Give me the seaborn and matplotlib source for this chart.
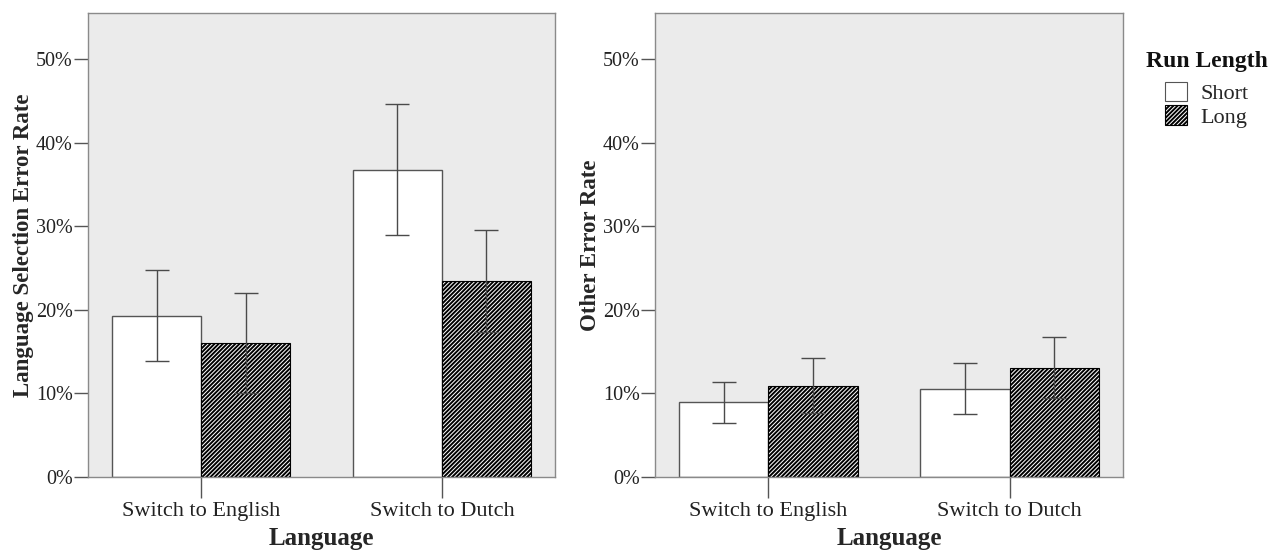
import matplotlib
matplotlib.use('Agg')
import matplotlib.pyplot as plt
import seaborn as sns
import pandas as pd
from matplotlib.ticker import PercentFormatter
from matplotlib.patches import Patch

# ---------------- data ----------------
languages = ['Switch to English', 'Switch to Dutch']
run_lengths = ['Short', 'Long']

# Language selection error rate (%)
lang_short = [19.3, 36.7]
lang_short_lo = [13.9, 28.9]
lang_short_hi = [24.7, 44.6]
lang_long = [16.0, 23.5]
lang_long_lo = [10.0, 17.4]
lang_long_hi = [22.0, 29.6]

# Other error rate (%)
other_short = [9.0, 10.5]
other_short_lo = [6.5, 7.5]
other_short_hi = [11.4, 13.6]
other_long = [10.9, 13.0]
other_long_lo = [7.7, 9.4]
other_long_hi = [14.2, 16.7]

y_ticks = [0, 10, 20, 30, 40, 50]

# ---------------- style ----------------
sns.set_theme(style='white')
plt.rcParams['font.family'] = ['Liberation Serif', 'DejaVu Serif']
plt.rcParams['hatch.linewidth'] = 1.4
plt.rcParams['hatch.color'] = 'black'

BG = '#EBEBEB'
SPINE = '#8a8a8a'
EDGE = '#555555'
HATCH = '////////'


def make_df(s, slo, shi, l, llo, lhi):
    rows = []
    for i, lang in enumerate(languages):
        rows.append(dict(Language=lang, Run=run_lengths[0], Rate=s[i], lo=slo[i], hi=shi[i]))
    for i, lang in enumerate(languages):
        rows.append(dict(Language=lang, Run=run_lengths[1], Rate=l[i], lo=llo[i], hi=lhi[i]))
    return pd.DataFrame(rows)


df_lang = make_df(lang_short, lang_short_lo, lang_short_hi, lang_long, lang_long_lo, lang_long_hi)
df_other = make_df(other_short, other_short_lo, other_short_hi, other_long, other_long_lo, other_long_hi)

W, H = 1278, 553
fig = plt.figure(figsize=(W / 100, H / 100), dpi=100)
ax1 = fig.add_axes([88 / W, (H - 477) / H, 467 / W, 464 / H])
ax2 = fig.add_axes([655 / W, (H - 477) / H, 468 / W, 464 / H])


def draw(ax, df, ylabel):
    sns.barplot(data=df, x='Language', y='Rate', hue='Run', order=languages,
                hue_order=run_lengths, palette=['white', 'white'], edgecolor=EDGE,
                linewidth=1.0, errorbar=None, width=0.74, ax=ax, legend=False,
                zorder=2)
    # hatch the "Long" bars
    for p in ax.containers[1]:
        p.set_hatch(HATCH)
        p.set_edgecolor('black')
        p.set_linewidth(0.8)
    # error bars
    for ci, run in enumerate(run_lengths):
        sub = df[df['Run'] == run].set_index('Language').loc[languages]
        xs = [p.get_x() + p.get_width() / 2 for p in ax.containers[ci]]
        yerr = [sub['Rate'] - sub['lo'], sub['hi'] - sub['Rate']]
        ax.errorbar(xs, sub['Rate'], yerr=yerr, fmt='none', ecolor='#4a4a4a',
                    elinewidth=1.0, capsize=8.5, capthick=1.0, zorder=3)
    ax.set_facecolor(BG)
    ax.set_xlim(-0.47, 1.47)
    ax.set_ylim(0, 55.5)
    ax.set_yticks(y_ticks)
    ax.yaxis.set_major_formatter(PercentFormatter(decimals=0))
    for s in ax.spines.values():
        s.set_color(SPINE)
        s.set_linewidth(1.0)
    ax.tick_params(axis='y', direction='out', length=10, width=1.0, color='#555555',
                   labelsize=14.5, pad=1, left=True, labelcolor='#222222')
    ax.tick_params(axis='x', direction='out', length=15, width=1.0, color='#555555',
                   labelsize=16, pad=3, bottom=True, labelcolor='#222222')
    ax.set_xlabel('Language', fontsize=18, fontweight='bold', labelpad=4)
    ax.set_ylabel(ylabel, fontsize=16.5, fontweight='bold', labelpad=1)


draw(ax1, df_lang, 'Language Selection Error Rate')
draw(ax2, df_other, 'Other Error Rate')

# legend title and entries
fig.text(1207 / W, 1 - 62 / H, 'Run Length', ha='center', va='center',
         fontsize=17, fontweight='bold', color='#111111')
handles = [Patch(facecolor='white', edgecolor='#555555', linewidth=0.8, label='Short'),
           Patch(facecolor='white', edgecolor='black', hatch=HATCH, linewidth=0.8, label='Long')]
leg = fig.legend(handles=handles, loc='upper left',
                 bbox_to_anchor=(1149 / W, 1 - 66 / H), frameon=False,
                 fontsize=16, handlelength=1.0, handleheight=1.0, handletextpad=0.6,
                 labelspacing=0.05, borderpad=0.2)

fig.savefig('out.png', dpi=100)
